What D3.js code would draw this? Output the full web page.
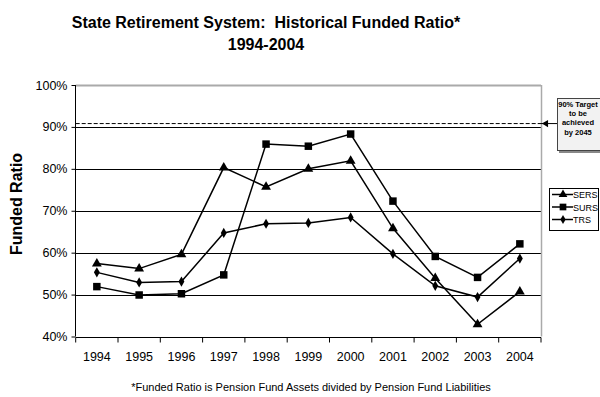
<!DOCTYPE html>
<html>
<head>
<meta charset="utf-8">
<script src="https://cdn.jsdelivr.net/npm/d3@7"></script>
<style>
  body { margin: 0; background: #fff; }
  text { font-family: "Liberation Sans", Arial, sans-serif; }
</style>
</head>
<body>
<svg id="chart" width="600" height="397"></svg>
<script>
// data
var years = ["1994","1995","1996","1997","1998","1999","2000","2001","2002","2003","2004"];
var sers = [0.574, 0.562, 0.596, 0.803, 0.757, 0.800, 0.819, 0.658, 0.539, 0.429, 0.507];
var surs = [0.519, 0.499, 0.502, 0.547, 0.859, 0.854, 0.883, 0.723, 0.591, 0.541, 0.621];
var trs  = [0.553, 0.529, 0.531, 0.647, 0.669, 0.671, 0.684, 0.597, 0.521, 0.494, 0.586];
var yTicks = [0.4, 0.5, 0.6, 0.7, 0.8, 0.9, 1.0];
var target = 0.908;

var series = [
  {name: "SERS", values: sers, symbol: d3.symbolTriangle, size: 42},
  {name: "SURS", values: surs, symbol: d3.symbolSquare, size: 56},
  {name: "TRS",  values: trs,  symbol: d3.symbolDiamond, size: 30}
];

var svg = d3.select("#chart");

var x = d3.scaleBand().domain(years).range([75.7, 541]).padding(0);
var y = d3.scaleLinear().domain([0.4, 1.0]).range([336.5, 85]);

// title
svg.append("text").attr("x", 266).attr("y", 28)
  .attr("text-anchor", "middle").style("font-size", "16px").style("font-weight", "bold")
  .text("State Retirement System:\u00a0\u00a0Historical Funded Ratio*");
svg.append("text").attr("x", 266).attr("y", 50)
  .attr("text-anchor", "middle").style("font-size", "16px").style("font-weight", "bold")
  .text("1994-2004");

// grid lines
svg.append("g").selectAll("line").data(yTicks.filter(function(d){ return d > 0.4; }))
  .enter().append("line")
  .attr("x1", 75.7).attr("x2", 541)
  .attr("y1", function(d){ return Math.round(y(d)) + 0.5; })
  .attr("y2", function(d){ return Math.round(y(d)) + 0.5; })
  .attr("stroke", function(d){ return d >= 1 ? "#aaa" : "#000"; })
  .attr("stroke-width", function(d){ return d >= 1 ? 2 : 1; });

// right border
svg.append("line").attr("x1", 541.5).attr("x2", 541.5).attr("y1", y(1)).attr("y2", y(0.4))
  .attr("stroke", "#aaa").attr("stroke-width", 1.5);

// y axis
var yAxis = svg.append("g").attr("transform", "translate(75.5,0)")
  .call(d3.axisLeft(y).tickValues(yTicks).tickSize(4).tickFormat(d3.format(".0%")));
yAxis.selectAll("text").style("font-size", "12.5px").attr("fill", "#000")
  .style("font-family", "'Liberation Sans', Arial, sans-serif").attr("dx", "-1");
yAxis.selectAll("line, path").attr("stroke", "#000");
yAxis.select(".domain").attr("d", "M0," + y(1) + "V" + y(0.4));

// x axis
var xAxis = svg.append("g").attr("transform", "translate(0," + (Math.round(y(0.4)) + 0.5) + ")")
  .call(d3.axisBottom(x).tickSize(0).tickPadding(15));
xAxis.selectAll("text").style("font-size", "12.5px").attr("fill", "#000")
  .style("font-family", "'Liberation Sans', Arial, sans-serif");
xAxis.select(".domain").attr("d", "M75.7,0H541").attr("stroke", "#000");
xAxis.selectAll(".bound").data(years.concat(["end"])).enter().append("line")
  .attr("class", "bound")
  .attr("x1", function(d, i){ return x.range()[0] + i * x.bandwidth(); })
  .attr("x2", function(d, i){ return x.range()[0] + i * x.bandwidth(); })
  .attr("y1", 0).attr("y2", 5).attr("stroke", "#000");

// y axis title
svg.append("text").attr("transform", "translate(22,204) rotate(-90)")
  .attr("text-anchor", "middle").style("font-size", "16px").style("font-weight", "bold")
  .text("Funded Ratio");

// target line
svg.append("line").attr("x1", 75.7).attr("x2", 541)
  .attr("y1", y(target)).attr("y2", y(target))
  .attr("stroke", "#000").attr("stroke-dasharray", "4,2");
svg.append("line").attr("x1", 541).attr("x2", 557)
  .attr("y1", y(target)).attr("y2", y(target)).attr("stroke", "#000");
svg.append("path").attr("d", d3.symbol().type(d3.symbolTriangle).size(22))
  .attr("transform", "translate(546," + y(target) + ") rotate(-90)").attr("fill", "#000");

// target box
svg.append("rect").attr("x", 559).attr("y", 100).attr("width", 60).attr("height", 53)
  .attr("fill", "#888");
svg.append("rect").attr("x", 557.5).attr("y", 98.5).attr("width", 60).attr("height", 52)
  .attr("fill", "#f2f2f2").attr("stroke", "#444");
["90% Target", "to be", "achieved", "by 2045"].forEach(function(t, i) {
  svg.append("text").attr("x", 578).attr("y", 106.5 + i * 9.4)
    .attr("text-anchor", "middle").style("font-size", "7.5px").style("font-weight", "bold")
    .text(t);
});

// lines and markers
var line = d3.line()
  .x(function(d, i){ return x(years[i]) + x.bandwidth() / 2; })
  .y(function(d){ return y(d); });

series.forEach(function(s) {
  svg.append("path").datum(s.values).attr("d", line)
    .attr("fill", "none").attr("stroke", "#000").attr("stroke-width", 1.5);
  svg.append("g").selectAll("path").data(s.values).enter().append("path")
    .attr("d", d3.symbol().type(s.symbol).size(s.size))
    .attr("transform", function(d, i){
      return "translate(" + (x(years[i]) + x.bandwidth() / 2) + "," + y(d) + ")";
    })
    .attr("fill", "#000");
});

// legend
var leg = svg.append("g");
leg.append("rect").attr("x", 549.5).attr("y", 188.5).attr("width", 49).attr("height", 42)
  .attr("fill", "#fff").attr("stroke", "#000");
series.forEach(function(s, i) {
  var ly = 194.5 + i * 12.5;
  leg.append("line").attr("x1", 552).attr("x2", 573).attr("y1", ly).attr("y2", ly)
    .attr("stroke", "#000").attr("stroke-width", 1.5);
  leg.append("path").attr("d", d3.symbol().type(s.symbol).size(s.size * 0.8))
    .attr("transform", "translate(563," + ly + ")").attr("fill", "#000");
  leg.append("text").attr("x", 573).attr("y", ly + 3.5).style("font-size", "9px").text(s.name);
});

// footnote
svg.append("text").attr("x", 311).attr("y", 391).attr("text-anchor", "middle")
  .style("font-size", "11px")
  .text("*Funded Ratio is Pension Fund Assets divided by Pension Fund Liabilities");
</script>
</body>
</html>
